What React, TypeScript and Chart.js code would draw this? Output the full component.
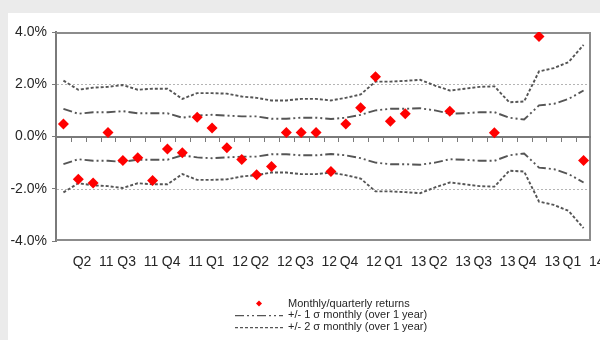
import { useEffect, useRef } from "react";
import { Chart, registerables } from "chart.js";

Chart.register(...registerables);

// Monthly periods, April 2011 to March 2014
const months = [
  "Apr 11", "May 11", "Jun 11", "Jul 11", "Aug 11", "Sep 11",
  "Oct 11", "Nov 11", "Dec 11", "Jan 12", "Feb 12", "Mar 12",
  "Apr 12", "May 12", "Jun 12", "Jul 12", "Aug 12", "Sep 12",
  "Oct 12", "Nov 12", "Dec 12", "Jan 13", "Feb 13", "Mar 13",
  "Apr 13", "May 13", "Jun 13", "Jul 13", "Aug 13", "Sep 13",
  "Oct 13", "Nov 13", "Dec 13", "Jan 14", "Feb 14", "Mar 14",
];

// One label per quarter, printed under the quarter's last month
const quarterTicks = [
  "Q2 11", "Q3 11", "Q4 11", "Q1 12", "Q2 12", "Q3 12",
  "Q4 12", "Q1 13", "Q2 13", "Q3 13", "Q4 13", "Q1 14",
];

// Returns in %: monthly until Mar 13, quarterly afterwards
const returns: (number | null)[] = [
  0.48, -1.64, -1.78, 0.15, -0.92, -0.81, -1.68, -0.48, -0.62, 0.74, 0.33, -0.43,
  -0.88, -1.46, -1.15, 0.15, 0.15, 0.15, -1.34, 0.48, 1.1, 2.29, 0.58, 0.87,
  null, null, 0.97, null, null, 0.14, null, null, 3.83, null, null, -0.92,
];

// One standard deviation of monthly returns over the trailing year, in %
const sigma1 = [
  1.06, 0.87, 0.93, 0.93, 0.97, 0.89, 0.89, 0.89, 0.72, 0.8, 0.83, 0.8,
  0.77, 0.77, 0.68, 0.68, 0.72, 0.72, 0.67, 0.72, 0.83, 1.0, 1.06, 1.06,
  1.08, 1.0, 0.87, 0.89, 0.93, 0.93, 0.72, 0.65, 1.19, 1.25, 1.44, 1.76,
];

// Two standard deviations, in %
const sigma2 = [
  2.14, 1.79, 1.87, 1.9, 1.97, 1.79, 1.83, 1.83, 1.44, 1.66, 1.66, 1.64,
  1.53, 1.48, 1.38, 1.38, 1.44, 1.44, 1.38, 1.48, 1.61, 2.1, 2.1, 2.13,
  2.17, 1.95, 1.76, 1.83, 1.9, 1.92, 1.31, 1.34, 2.49, 2.62, 2.85, 3.51,
];

const yTicks = [-4, -2, 0, 2, 4];
const gridValues = [-2, 2];

const FONT = "'Liberation Sans', Arial, sans-serif";
const TEXT = "#262626";
const LINE = "#555555";
const FRAME = "#8c8c8c";
const GRID = "#b4b4b4";
const AXIS = "#7a7a7a";
const RED = "#ff0000";
const DASH_1 = [9, 3, 2, 3, 2, 3];
const DASH_2 = [3, 2];

// Plot border, dotted reference lines and the zero axis with monthly tick marks
const axisPlugin = {
  id: "zeroAxis",
  beforeDatasetsDraw(chart: any) {
    const { ctx, scales } = chart;
    const xs = scales.x;
    const ys = scales.y;
    const left = Math.round(xs.left);
    const right = Math.round(xs.right);
    const top = Math.round(ys.getPixelForValue(yTicks[yTicks.length - 1]));
    const bottom = Math.round(ys.getPixelForValue(yTicks[0]));
    ctx.save();

    ctx.strokeStyle = FRAME;
    ctx.lineWidth = 2;
    ctx.beginPath();
    ctx.moveTo(left, top + 1);
    ctx.lineTo(right - 1, top + 1);
    ctx.lineTo(right - 1, bottom - 1);
    ctx.lineTo(left, bottom - 1);
    ctx.stroke();

    ctx.strokeStyle = GRID;
    ctx.lineWidth = 1;
    ctx.setLineDash([2, 2]);
    ctx.beginPath();
    gridValues.forEach((v) => {
      const y = Math.round(ys.getPixelForValue(v)) + 0.5;
      ctx.moveTo(left + 1, y);
      ctx.lineTo(right - 2, y);
    });
    ctx.stroke();
    ctx.setLineDash([]);

    const y0 = Math.round(ys.getPixelForValue(0));
    ctx.strokeStyle = AXIS;
    ctx.lineWidth = 2;
    ctx.beginPath();
    ctx.moveTo(left, y0);
    ctx.lineTo(right, y0);
    ctx.stroke();
    ctx.lineWidth = 1;
    ctx.beginPath();
    const n = months.length;
    for (let i = 1; i < n; i++) {
      const x = Math.round(left + (i * (right - left)) / n) + 0.5;
      ctx.moveTo(x, y0);
      ctx.lineTo(x, y0 + 5);
    }
    ctx.stroke();
    ctx.restore();
  },
};

// Stacked legend below the plot
const legendPlugin = {
  id: "stackLegend",
  afterDraw(chart: any) {
    const { ctx } = chart;
    const items = chart.data.datasets.filter((d: any) => d.inLegend);
    const sampleLeft = 227;
    const sampleRight = 275;
    const textLeft = 280;
    const firstRow = 290.5;
    const rowStep = 11.7;
    ctx.save();
    ctx.font = `11px ${FONT}`;
    ctx.textBaseline = "middle";
    ctx.textAlign = "left";
    items.forEach((d: any, i: number) => {
      const y = firstRow + i * rowStep;
      if (d.showLine === false) {
        const cx = (sampleLeft + sampleRight) / 2;
        const r = 3;
        ctx.fillStyle = d.backgroundColor;
        ctx.beginPath();
        ctx.moveTo(cx, y - r);
        ctx.lineTo(cx + r, y);
        ctx.lineTo(cx, y + r);
        ctx.lineTo(cx - r, y);
        ctx.closePath();
        ctx.fill();
      } else {
        ctx.strokeStyle = d.borderColor;
        ctx.lineWidth = 1.25;
        ctx.setLineDash(d.borderDash || []);
        ctx.beginPath();
        ctx.moveTo(sampleLeft, Math.round(y) + 0.5);
        ctx.lineTo(sampleRight, Math.round(y) + 0.5);
        ctx.stroke();
        ctx.setLineDash([]);
      }
      ctx.fillStyle = TEXT;
      ctx.fillText(d.label, textLeft, y);
    });
    ctx.restore();
  },
};

export default function App() {
  const canvasRef = useRef<HTMLCanvasElement | null>(null);

  useEffect(() => {
    if (!canvasRef.current) return;
    const band = (label: string, values: number[], dash: number[], inLegend: boolean) => ({
      label,
      data: values,
      borderColor: LINE,
      backgroundColor: LINE,
      borderWidth: 1.9,
      borderDash: dash,
      pointRadius: 0,
      tension: 0,
      fill: false,
      inLegend,
    });

    const chart = new Chart(canvasRef.current, {
      type: "line",
      data: {
        labels: months,
        datasets: [
          {
            label: "Monthly/quarterly returns",
            data: returns,
            showLine: false,
            pointStyle: "rectRot",
            pointRadius: 5.5,
            pointBorderWidth: 0,
            backgroundColor: RED,
            borderColor: RED,
            inLegend: true,
          } as any,
          band("+/- 1 σ monthly (over 1 year)", sigma1, DASH_1, true),
          band("-1 σ", sigma1.map((v) => -v), DASH_1, false),
          band("+/- 2 σ monthly (over 1 year)", sigma2, DASH_2, true),
          band("-2 σ", sigma2.map((v) => -v), DASH_2, false),
        ],
      },
      options: {
        animation: false,
        responsive: false,
        devicePixelRatio: 1,
        layout: { padding: { left: 0, top: 19, right: 47, bottom: 69 } },
        plugins: {
          legend: { display: false },
          tooltip: { enabled: false },
        },
        scales: {
          x: {
            type: "category",
            offset: true,
            grid: { display: false },
            border: { display: false },
            ticks: {
              autoSkip: false,
              maxRotation: 0,
              minRotation: 0,
              padding: 5,
              color: TEXT,
              font: { family: FONT, size: 14 },
              callback: (_v: any, i: number) =>
                i % 3 === 2 ? quarterTicks[(i - 2) / 3].split(" ").join("  ") : "",
            },
            afterFit: (s: any) => {
              s.height = 30;
            },
          },
          y: {
            min: yTicks[0],
            max: yTicks[yTicks.length - 1],
            afterBuildTicks: (s: any) => {
              s.ticks = yTicks.map((value) => ({ value }));
            },
            ticks: {
              padding: 5,
              color: TEXT,
              font: { family: FONT, size: 14 },
              callback: (v: any) => `${Number(v).toFixed(1)}%`,
            },
            grid: {
              drawOnChartArea: false,
              tickColor: AXIS,
              tickLength: 4,
            },
            border: { color: AXIS, width: 2 },
            afterFit: (s: any) => {
              s.width = 48;
            },
          },
        },
      },
      plugins: [axisPlugin, legendPlugin],
    });
    return () => chart.destroy();
  }, []);

  return (
    <div style={{ position: "fixed", inset: 0, background: "#ebebeb", overflow: "hidden" }}>
      <div
        style={{
          position: "absolute",
          left: 8,
          top: 13,
          right: 0,
          bottom: 0,
          background: "#ffffff",
          overflow: "hidden",
        }}
      >
        <canvas ref={canvasRef} width={630} height={327} style={{ display: "block" }} />
      </div>
    </div>
  );
}
